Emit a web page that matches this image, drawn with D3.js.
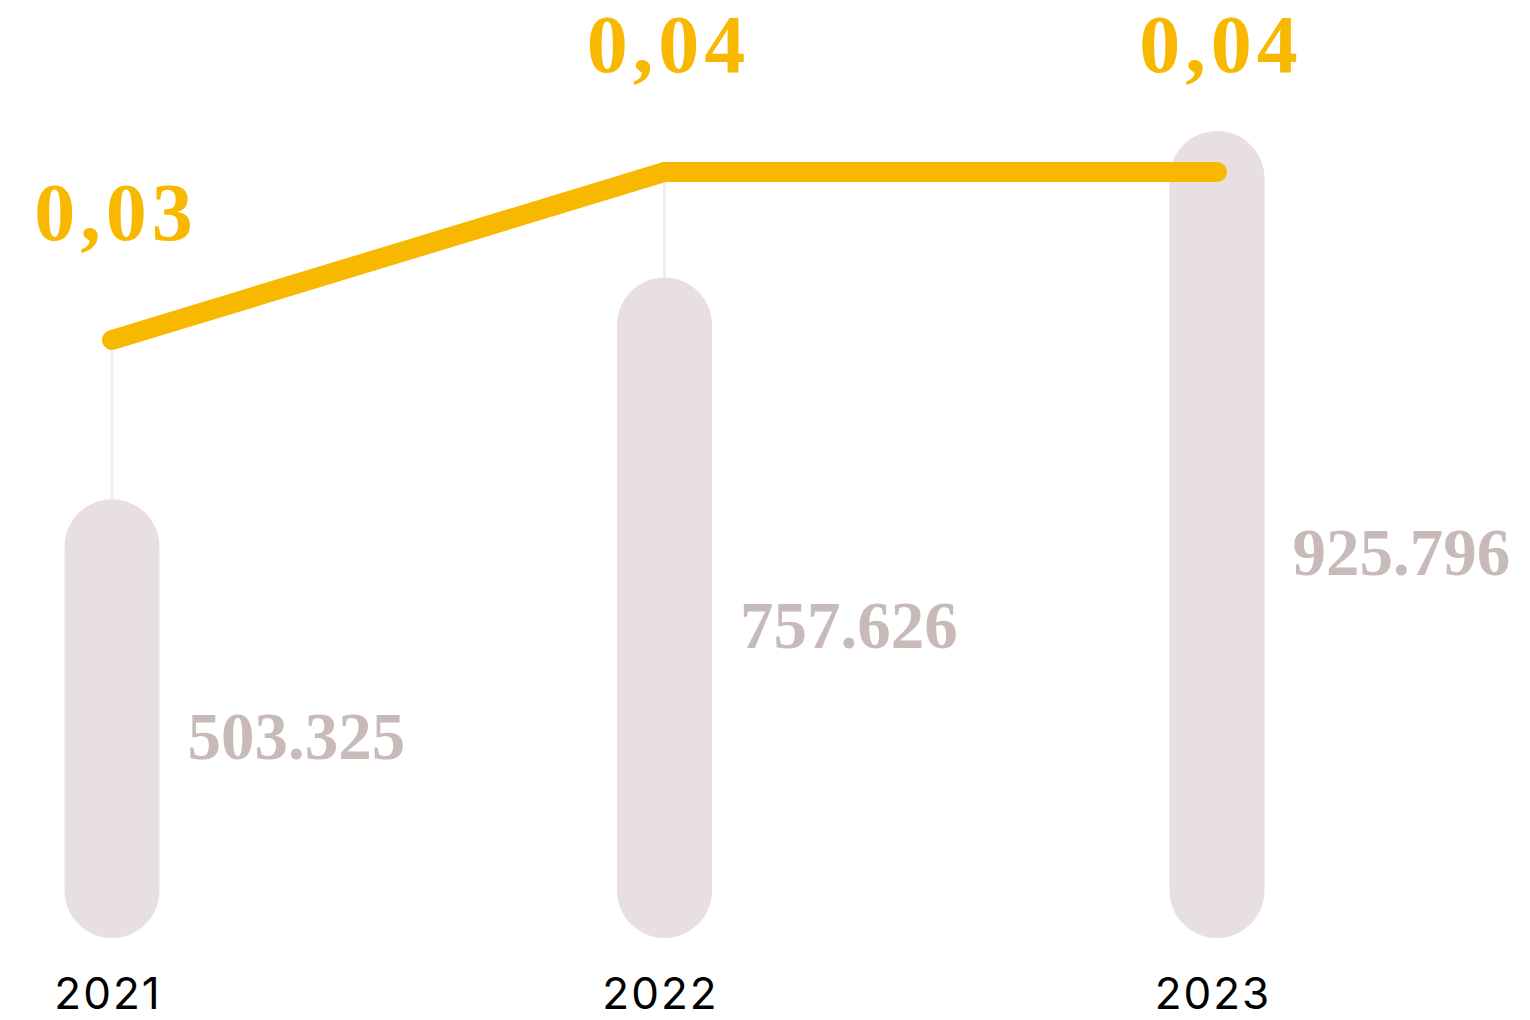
<!DOCTYPE html>
<html>
<head>
<meta charset="utf-8">
<script src="https://cdn.jsdelivr.net/npm/d3@7"></script>
<style>
  html, body { margin: 0; padding: 0; background: #ffffff; }
  svg { display: block; }
</style>
</head>
<body>
<svg id="chart" width="1530" height="1020"></svg>
<script>
// ---- data ----
const years = ["2021", "2022", "2023"];
const barValues = [503325, 757626, 925796];
const lineValues = [0.03, 0.04, 0.04];

// ---- setup ----
const svg = d3.select("#chart");
const barWidth = 95;
const baseY = 938;

const locale = d3.formatLocale({ decimal: ",", thousands: ".", grouping: [3], currency: ["", "€"] });
const fmtBar = locale.format(",d");
const fmtLine = locale.format(".2f");

const x = d3.scalePoint().domain(years).range([112, 1217]);
const yBar = d3.scaleLinear().domain([0, d3.max(barValues)]).range([baseY, 131]);
const yLine = d3.scaleLinear().domain([0.03, 0.04]).range([340, 172]);

const data = years.map((y, i) => ({ year: y, bar: barValues[i], line: lineValues[i] }));

// connector thin lines
svg.append("g").selectAll("line")
  .data(data.filter(d => yBar(d.bar) > yLine(d.line)))
  .join("line")
  .attr("x1", d => x(d.year)).attr("x2", d => x(d.year))
  .attr("y1", d => yLine(d.line)).attr("y2", d => yBar(d.bar))
  .attr("stroke", "#efefef").attr("stroke-width", 3);

// bars (pills)
svg.append("g").selectAll("rect")
  .data(data)
  .join("rect")
  .attr("x", d => x(d.year) - barWidth / 2)
  .attr("y", d => yBar(d.bar))
  .attr("width", barWidth)
  .attr("height", d => baseY - yBar(d.bar))
  .attr("rx", barWidth / 2).attr("ry", barWidth / 2)
  .attr("fill", "#e7dfe0");

// bar value labels
svg.append("g").selectAll("text")
  .data(data)
  .join("text")
  .attr("x", d => x(d.year) + barWidth / 2 + 28)
  .attr("y", d => (yBar(d.bar) + baseY) / 2 + 40)
  .attr("font-family", "'Liberation Serif', 'Times New Roman', serif")
  .attr("font-weight", 700)
  .attr("font-size", 67)
  .attr("fill", "#c9baba")
  .text(d => fmtBar(d.bar));

// line
svg.append("path")
  .datum(data)
  .attr("d", d3.line().x(d => x(d.year)).y(d => yLine(d.line)))
  .attr("fill", "none")
  .attr("stroke", "#f9b800")
  .attr("stroke-width", 20)
  .attr("stroke-linecap", "round")
  .attr("stroke-linejoin", "miter");

// line labels
svg.append("g").selectAll("text")
  .data(data)
  .join("text")
  .attr("x", d => x(d.year) + 4)
  .attr("y", d => yLine(d.line) - 100)
  .attr("text-anchor", "middle")
  .attr("font-family", "'Liberation Serif', 'Times New Roman', serif")
  .attr("font-weight", 700)
  .attr("font-size", 82)
  .attr("letter-spacing", 5)
  .attr("fill", "#f9b800")
  .text(d => fmtLine(d.line));

// year labels
svg.append("g").selectAll("text")
  .data(data)
  .join("text")
  .attr("x", d => x(d.year) - 4)
  .attr("y", 1009)
  .attr("text-anchor", "middle")
  .attr("font-family", "Inter, 'Noto Sans', sans-serif")
  .attr("font-size", 44)
  .attr("letter-spacing", 2)
  .attr("fill", "#000000")
  .text(d => d.year);
</script>
</body>
</html>
